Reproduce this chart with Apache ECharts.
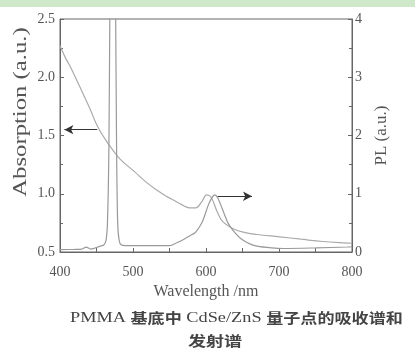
<!DOCTYPE html>
<html><head><meta charset="utf-8">
<script src="https://cdn.jsdelivr.net/npm/echarts@6/dist/echarts.min.js"></script>
<style>html,body{margin:0;padding:0;background:#fff}#c{width:415px;height:356px}</style>
</head><body><div id="c"></div>
<script>
// Absorption spectrum (left axis)
const absWavelength = [400, 408, 415, 427, 441, 452, 466, 482, 502, 518, 533, 545, 560, 570, 578, 586, 594, 601, 607, 615, 623, 637, 651, 670, 701, 730, 760, 793, 800];
const absValues =     [2.27, 2.16, 2.08, 1.92, 1.73, 1.57, 1.43, 1.30, 1.19, 1.10, 1.03, 0.98, 0.93, 0.895, 0.878, 0.878, 0.93, 0.99, 0.97, 0.85, 0.76, 0.70, 0.67, 0.65, 0.63, 0.61, 0.59, 0.577, 0.575];
// PL spectrum (right axis)
const plWavelength = [400, 420, 430, 436, 442, 455, 460, 463, 465, 467, 468.5, 470, 473, 474.5, 476, 477.5, 479, 481, 484, 490, 520, 550, 560, 570, 578, 585, 592, 596, 603, 608, 612, 616, 622, 630, 637, 645, 651, 660, 670, 690, 706, 750, 793, 800];
const plValues =     [0.04, 0.045, 0.05, 0.085, 0.05, 0.1, 0.12, 0.2, 0.5, 1.8, 4.5, 6, 6.5, 6, 4.5, 1.8, 0.5, 0.2, 0.12, 0.11, 0.11, 0.11, 0.16, 0.22, 0.28, 0.33, 0.45, 0.55, 0.8, 0.93, 0.98, 0.93, 0.75, 0.5, 0.37, 0.26, 0.2, 0.14, 0.1, 0.07, 0.06, 0.07, 0.086, 0.09];
// Axis ticks
const xTicks = [400, 500, 600, 700, 800];
const absTicks = [0.5, 1.0, 1.5, 2.0, 2.5];
const plTicks = [0, 1, 2, 3, 4];
// Annotation arrows: [fromX, fromY] -> [toX, toY]
const absArrow = [[451, 1.55], [406, 1.55]];
const plArrow = [[616, 0.957], [663, 0.957]];
const absAxisName = 'Absorption (a.u.)';
const captionLatin1 = 'PMMA ';
const captionCjk1 = '基底中';
const captionLatin2 = ' CdSe/ZnS ';
const captionCjk2 = '量子点的吸收谱和';
const caption2 = '发射谱';

const serif = '"Liberation Serif","DejaVu Serif",serif';
const cjk = '"Noto Sans CJK SC","Noto Sans CJK JP",sans-serif';
const axisCol = '#666';
const txtCol = '#555';
const chart = echarts.init(document.getElementById('c'));
chart.setOption({
  animation: false,
  backgroundColor: '#fff',
  grid: {left: 60, right: 63, top: 19, bottom: 104, show: true, borderColor: axisCol, borderWidth: 1},
  xAxis: {
    type: 'value', min: 400, max: 800, interval: 100,
    name: 'Wavelength /nm', nameLocation: 'middle', nameGap: 30,
    nameTextStyle: {fontFamily: serif, fontSize: 16, color: txtCol},
    axisLine: {lineStyle: {color: axisCol}},
    axisTick: {inside: true, length: 4, lineStyle: {color: axisCol}},
    minorTick: {show: true, splitNumber: 2, length: 4, lineStyle: {color: axisCol}},
    axisLabel: {fontFamily: serif, fontSize: 14, color: txtCol, margin: 13, formatter: v => xTicks.includes(v) ? String(v) : ''},
    splitLine: {show: false}
  },
  yAxis: [{
    type: 'value', min: 0.5, max: 2.5, interval: 0.5, position: 'left',
    axisLine: {show: true, lineStyle: {color: axisCol}},
    axisTick: {show: true, inside: true, length: 4, lineStyle: {color: axisCol}},
    minorTick: {show: true, splitNumber: 2, length: 3, lineStyle: {color: axisCol}},
    axisLabel: {fontFamily: serif, fontSize: 14, color: txtCol, margin: 5, formatter: v => absTicks.some(t => Math.abs(t - v) < 1e-9) ? v.toFixed(1) : ''},
    splitLine: {show: false}
  }, {
    type: 'value', min: 0, max: 4, interval: 1, position: 'right',
    name: 'PL (a.u.)', nameLocation: 'middle', nameGap: 13,
    nameTextStyle: {fontFamily: serif, fontSize: 17, color: txtCol},
    axisLine: {show: true, lineStyle: {color: axisCol}},
    axisTick: {show: true, inside: true, length: 4, lineStyle: {color: axisCol}},
    minorTick: {show: true, splitNumber: 2, length: 3, lineStyle: {color: axisCol}},
    axisLabel: {fontFamily: serif, fontSize: 14, color: txtCol, margin: 3, formatter: v => plTicks.includes(v) ? String(v) : ''},
    splitLine: {show: false}
  }],
  series: [{
    type: 'line', yAxisIndex: 0, name: 'Absorption',
    data: absWavelength.map((w, i) => [w, absValues[i]]),
    smooth: 0.4, showSymbol: false, symbol: 'none', clip: true,
    lineStyle: {color: '#aaa', width: 1.2},
    markLine: {
      silent: true, symbol: ['none', 'arrow'], symbolSize: [7, 9],
      label: {show: false},
      lineStyle: {color: '#333', width: 1.2, type: 'solid'},
      data: [[{coord: absArrow[0]}, {coord: absArrow[1]}]]
    }
  }, {
    type: 'line', yAxisIndex: 1, name: 'PL',
    data: plWavelength.map((w, i) => [w, plValues[i]]),
    smooth: 0.3, showSymbol: false, symbol: 'none', clip: true,
    lineStyle: {color: '#999', width: 1.2},
    markLine: {
      silent: true, symbol: ['none', 'arrow'], symbolSize: [7, 9],
      label: {show: false},
      lineStyle: {color: '#333', width: 1.2, type: 'solid'},
      data: [[{coord: plArrow[0]}, {coord: plArrow[1]}]]
    }
  }],
  graphic: [
    {type: 'rect', left: 0, top: 0, shape: {width: 415, height: 7}, style: {fill: '#cfe8c9'}, z: 10},
    {type: 'text', x: 21, y: 112, rotation: Math.PI / 2, scaleX: 1.3, style: {
      text: absAxisName, textAlign: 'center', textVerticalAlign: 'middle',
      fontFamily: serif, fontSize: 19, fill: txtCol
    }},
    {type: 'text', x: 70, y: 318, scaleX: 1.22, style: {
      text: '{l|' + captionLatin1 + '}{c|' + captionCjk1 + '}{l|' + captionLatin2 + '}{c|' + captionCjk2 + '}',
      textAlign: 'left', textVerticalAlign: 'middle',
      rich: {
        l: {fontFamily: serif, fontSize: 15, fill: '#444', fontWeight: 'normal'},
        c: {fontFamily: cjk, fontSize: 14, fill: '#444', fontWeight: 'bold'}
      }
    }},
    {type: 'text', x: 188, y: 341, scaleX: 1.29, style: {text: caption2, textAlign: 'left', textVerticalAlign: 'middle', fontFamily: cjk, fontSize: 14, fontWeight: 'bold', fill: '#444'}}
  ]
});
</script></body></html>
